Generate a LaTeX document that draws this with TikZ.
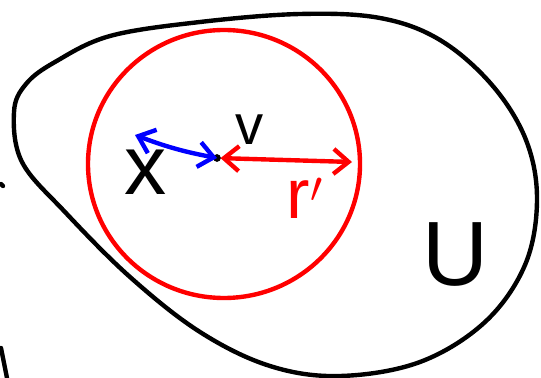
\documentclass[tikz,border=0pt]{standalone}
\usepackage{fontspec}
\setsansfont{Liberation Sans}
\usetikzlibrary{arrows.meta}
\definecolor{skBlack}{RGB}{0,0,0}
\definecolor{skRed}{RGB}{255,0,0}
\definecolor{skBlue}{RGB}{0,0,255}
\tikzset{
  pen/.style={line width=2.5pt, line cap=round, line join=round, draw=#1},
  pen/.default=skBlack,
  barb/.style={{Straight Barb[length=3mm,width=5mm]}-{Straight Barb[length=3mm,width=5mm]}},
  lbl/.style={font=\sffamily\fontsize{#1}{#1}\selectfont, inner sep=0pt},
  lbl/.default=30pt,
}
\begin{document}
\begin{tikzpicture}[x=0.02cm, y=-0.02cm]
  \useasboundingbox (0,0) rectangle (541,378);

  % set U
  \draw[pen] plot[smooth cycle, tension=0.6] coordinates {
    (55,62) (110,36) (200,22) (300,14) (380,18) (440,40) (492,85)
    (526,140) (537,200) (525,265) (485,322) (420,362) (340,376)
    (270,366) (200,332) (130,277) (65,212) (22,162) (14,112) (26,84)};

  % stray strokes at the left edge
  \draw[pen] (1,184) -- (3,186);
  \draw[pen] (1,348) -- (7,378);

  % ball of radius r'
  \draw[pen=skRed] (224,164) ellipse [x radius=136, y radius=134];

  \coordinate (v0) at (217,158);
  \coordinate (xend) at (135,135);
  \coordinate (rend) at (352,162);
  \fill (v0) circle (2.2pt);

  \draw[pen=skBlue, barb] (xend) to[bend right=5] (v0);
  \draw[pen=skRed, barb, shorten <=2pt] (v0) -- (rend);

  \node[lbl=32pt] (vlab) at (250,130) {v};
  \node[lbl=48pt] (xlab) at (146,172) {x};
  \node[lbl=40pt, text=skRed] (rlab) at (305,198) {r$'$};
  \node[lbl=52pt] (ulab) at (455,255) {U};
\end{tikzpicture}
\end{document}
